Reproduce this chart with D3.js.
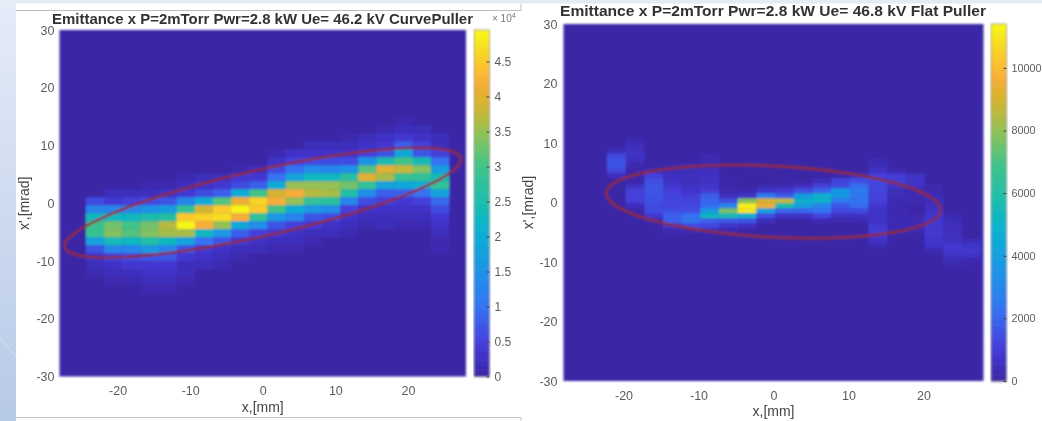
<!DOCTYPE html>
<html>
<head>
<meta charset="utf-8">
<script src="https://cdnjs.cloudflare.com/ajax/libs/d3/7.8.5/d3.min.js"></script>
<style>
  html, body { margin: 0; padding: 0; background: #fff; overflow: hidden; }
  text { font-family: "Liberation Sans", Arial, sans-serif; }
</style>
</head>
<body>
<svg id="chart" width="1042" height="421"></svg>
<script>
// curve puller histogram, thousands of counts, top row first
const curveCounts = [
  [0,0,0,0,0,0,0,0,0,0,0,0,0,0,0,0,0,1,0,0],
  [0,0,0,0,0,0,0,0,0,0,0,0,0,0,0,0,1,2,2,0],
  [0,0,0,0,0,0,0,0,0,0,0,0,0,0,1,2,3,4,3,2],
  [0,0,0,0,0,0,0,0,0,0,0,0,2,2,2,3,4,8,5,2],
  [0,0,0,0,0,0,0,0,0,0,1,3,3,3,3,5,7,19,7,5],
  [0,0,0,0,0,0,0,0,0,0,3,5,6,6,6,15,25,30,24,10],
  [0,0,0,0,0,0,0,0,1,2,6,10,14,13,15,31,40,38,34,17],
  [0,0,0,0,0,1,2,2,4,4,10,18,23,23,27,40,36,29,28,24],
  [0,0,0,1,1,2,3,4,6,8,20,35,35,35,33,28,18,19,20,28],
  [0,2,2,2,3,4,6,8,20,30,39,42,37,36,26,14,8,8,10,18],
  [6,4,5,6,7,13,20,31,41,46,42,35,28,27,13,6,5,4,5,9],
  [13,13,13,15,17,28,39,45,49,45,30,20,16,14,5,3,3,3,3,6],
  [23,23,23,25,26,45,46,47,42,28,16,13,7,6,3,2,2,2,2,4],
  [29,33,30,33,37,49,42,35,19,14,7,5,4,3,2,1,2,1,1,3],
  [29,34,31,34,36,36,23,16,8,5,4,3,2,2,1,0,0,0,0,2],
  [18,24,23,26,23,18,10,7,4,3,2,2,1,0,0,0,0,0,0,1],
  [7,13,13,16,13,7,4,3,2,2,1,1,0,0,0,0,0,0,0,1],
  [3,5,6,7,7,4,3,2,1,0,0,0,0,0,0,0,0,0,0,0],
  [2,3,4,4,4,2,2,1,0,0,0,0,0,0,0,0,0,0,0,0],
  [1,2,2,3,3,2,0,0,0,0,0,0,0,0,0,0,0,0,0,0],
  [0,1,1,2,2,1,0,0,0,0,0,0,0,0,0,0,0,0,0,0],
  [0,0,0,1,1,0,0,0,0,0,0,0,0,0,0,0,0,0,0,0]
];

// flat puller histogram, hundreds of counts, top row first
const flatCounts = [
  [0,3,0,0,0,0,0,0,0,0,0,0,0,0,0,0,0,0,0,0],
  [0,5,0,0,0,0,0,0,0,0,0,0,0,0,0,0,0,0,0,0],
  [4,6,0,0,0,0,0,0,0,0,0,0,0,0,0,0,0,0,0,0],
  [13,7,0,0,0,2,0,0,0,0,0,0,0,0,0,0,0,0,0,0],
  [16,5,0,0,0,3,0,0,0,0,0,0,0,0,3,0,0,0,0,0],
  [16,2,0,2,2,4,0,0,0,0,0,0,0,0,4,0,0,0,0,0],
  [13,1,4,4,4,5,0,0,0,0,0,0,0,0,6,3,0,0,0,0],
  [5,1,11,5,5,6,0,0,0,0,0,0,2,5,11,10,6,0,0,0],
  [0,1,15,7,5,7,1,0,0,0,0,4,12,15,13,10,8,0,0,0],
  [0,6,16,9,6,8,1,0,2,3,5,11,14,22,13,8,7,2,0,0],
  [0,11,16,11,8,10,2,2,8,9,15,20,38,26,13,4,3,2,0,0],
  [0,12,16,12,10,18,5,7,27,18,38,50,38,25,12,4,3,3,0,0],
  [0,11,15,13,12,20,15,78,90,86,50,50,26,24,11,3,3,4,0,0],
  [0,5,14,12,13,22,30,112,95,58,40,30,17,22,9,3,1,5,0,0],
  [0,1,14,15,15,38,77,110,42,20,20,24,13,14,7,3,1,7,0,0],
  [0,0,9,19,23,54,56,48,15,7,7,13,6,7,7,3,2,8,3,0],
  [0,0,2,19,24,19,17,16,4,0,0,3,2,3,7,3,3,9,4,0],
  [0,0,0,9,14,13,8,5,0,0,0,0,0,0,9,3,3,9,5,0],
  [0,0,0,3,3,4,2,0,0,0,0,0,0,0,10,2,2,9,5,0],
  [0,0,0,0,0,0,0,0,0,0,0,0,0,0,9,1,0,9,6,0],
  [0,0,0,0,0,0,0,0,0,0,0,0,0,0,7,0,0,8,6,4],
  [0,0,0,0,0,0,0,0,0,0,0,0,0,0,3,0,0,7,9,8],
  [0,0,0,0,0,0,0,0,0,0,0,0,0,0,0,0,0,3,9,9],
  [0,0,0,0,0,0,0,0,0,0,0,0,0,0,0,0,0,0,6,7],
  [0,0,0,0,0,0,0,0,0,0,0,0,0,0,0,0,0,0,4,3],
  [0,0,0,0,0,0,0,0,0,0,0,0,0,0,0,0,0,0,2,1]
];

const axisTicksX = [-20, -10, 0, 10, 20];
const axisTicksY = [-30, -20, -10, 0, 10, 20, 30];
const curveBarTicks = [0, 5000, 10000, 15000, 20000, 25000, 30000, 35000, 40000, 45000];
const flatBarTicks = [0, 2000, 4000, 6000, 8000, 10000];

// colormap
const parulaPos = [0, .05, .1, .2, .3, .4, .45, .5, .6, .7, .76, .8, .85, .9, .95, 1];
const parulaCol = ['#3b27a5', '#3f2fc0', '#4540dc', '#3472f2', '#1e92e8', '#0cabd6', '#06b6c6', '#1cbcae',
  '#3cc38c', '#8fc257', '#c2b83a', '#dcb22e', '#f8ae38', '#fcc52c', '#f6de20', '#f9fb15'];

const panels = [
  {
    title: 'Emittance x P=2mTorr Pwr=2.8 kW Ue= 46.2 kV CurvePuller',
    titleX: 262.5, titleY: 24, titleLen: 421,
    counts: curveCounts, unit: 1000, maxCount: 49500,
    binX0: -24.35, binW: 2.5, binTop: 14.88, binH: 1.384,
    plotX: [59.5, 466], plotY: [376.5, 30],
    barX: [474, 489.5], barTicks: curveBarTicks, barFont: 12,
    barFormat: d => d === 0 ? '0' : String(d / 10000),
    ell: { x: 27.3, y: 9.5, phase: 38, cy: 0.1 },
    yLabelX: 29, xLabelY: 412, tickGapX: 14, tickGapY: 5
  },
  {
    title: 'Emittance x P=2mTorr Pwr=2.8 kW Ue= 46.8 kV Flat Puller',
    titleX: 773, titleY: 16, titleLen: 426,
    counts: flatCounts, unit: 100, maxCount: 11400,
    binX0: -22.2, binW: 2.49, binTop: 10.79, binH: 0.84,
    plotX: [563.5, 983.5], plotY: [381, 24],
    barX: [991, 1006.5], barTicks: flatBarTicks, barFont: 10.8,
    barFormat: d => String(d),
    ell: { x: 22.3, y: 6.15, phase: 103, cy: 0.15 },
    yLabelX: 533, xLabelY: 416, tickGapX: 14, tickGapY: 6
  }
];

let svg = d3.select('#chart');
let defs = svg.append('defs');

defs.append('filter').attr('id', 'soft').attr('x', '-5%').attr('y', '-5%').attr('width', '110%').attr('height', '110%')
  .append('feGaussianBlur').attr('stdDeviation', 1);
defs.append('filter').attr('id', 'softText').attr('x', '-10%').attr('y', '-20%').attr('width', '120%').attr('height', '140%')
  .append('feGaussianBlur').attr('stdDeviation', 0.55);

let stripGrad = defs.append('linearGradient').attr('id', 'strip').attr('x1', 0).attr('y1', 0).attr('x2', 0).attr('y2', 1);
stripGrad.append('stop').attr('offset', 0).attr('stop-color', '#e6ecf8');
stripGrad.append('stop').attr('offset', 1).attr('stop-color', '#b6c9e7');

// slide background behind the two pasted figures
svg.append('rect').attr('width', 1042).attr('height', 421).attr('fill', '#fff');
svg.append('rect').attr('width', 1042).attr('height', 3.5).attr('fill', '#e4ebf7');
svg.append('rect').attr('width', 16).attr('height', 421).attr('fill', 'url(#strip)');
svg.append('path').attr('d', 'M0,338L16,357').attr('stroke', '#d3deef').attr('fill', 'none');
svg.append('path').attr('d', 'M16,10.5H521V4').attr('stroke', '#bdbdbd').attr('fill', 'none');
svg.append('path').attr('d', 'M16,417.5H521V421').attr('stroke', '#c4c4c4').attr('fill', 'none');

panels.forEach(drawPanel);

function drawPanel(p) {
  let x = d3.scaleLinear().domain([-28, 28]).range(p.plotX);
  let y = d3.scaleLinear().domain([-30, 30]).range(p.plotY);
  let color = d3.scaleLinear().domain(parulaPos.map(d => d * p.maxCount)).range(parulaCol).clamp(true);
  let barY = d3.scaleLinear().domain([0, p.maxCount]).range(p.plotY);

  let cells = [];
  p.counts.forEach((row, r) => row.forEach((v, c) => cells.push({ r, c, v: v * p.unit })));

  let plot = svg.append('g').attr('filter', 'url(#soft)');

  plot.append('rect')
    .attr('x', p.plotX[0]).attr('y', p.plotY[1])
    .attr('width', p.plotX[1] - p.plotX[0]).attr('height', p.plotY[0] - p.plotY[1])
    .attr('fill', color(0));

  plot.selectAll('.cell')
    .data(cells.filter(d => d.v > 0))
    .enter().append('rect')
    .attr('class', 'cell')
    .attr('x', d => x(p.binX0 + d.c * p.binW))
    .attr('y', d => y(p.binTop - d.r * p.binH))
    .attr('width', x(p.binW) - x(0) + 0.3)
    .attr('height', y(0) - y(p.binH) + 0.3)
    .attr('fill', d => color(d.v));

  // ellipse drawn in data space, x and x' out of phase
  let line = d3.line().x(d => x(p.ell.x * Math.cos(d))).y(d => y(p.ell.cy + p.ell.y * Math.cos(d - p.ell.phase * Math.PI / 180)));
  plot.append('path')
    .attr('d', line(d3.range(0, 2 * Math.PI + 0.05, 0.05)))
    .attr('fill', 'none')
    .attr('stroke', '#8c2c30')
    .attr('stroke-width', 2.6);

  // colour bar, 64 levels like matlab
  let levels = d3.range(64).map(i => i / 64 * p.maxCount);
  let bar = svg.append('g').attr('filter', 'url(#soft)');
  bar.selectAll('rect')
    .data(levels)
    .enter().append('rect')
    .attr('x', p.barX[0])
    .attr('width', p.barX[1] - p.barX[0])
    .attr('y', d => barY(d + p.maxCount / 64))
    .attr('height', barY(0) - barY(p.maxCount / 64) + 0.5)
    .attr('fill', d => color(d + p.maxCount / 128));
  bar.append('rect')
    .attr('x', p.barX[0]).attr('y', p.plotY[1])
    .attr('width', p.barX[1] - p.barX[0]).attr('height', p.plotY[0] - p.plotY[1])
    .attr('fill', 'none').attr('stroke', '#777').attr('stroke-width', 0.7);

  let text = svg.append('g').attr('filter', 'url(#softText)');

  let xAxis = text.append('g')
    .attr('transform', `translate(0,${p.plotY[0]})`)
    .call(d3.axisBottom(x).tickValues(axisTicksX).tickFormat(String).tickSize(0).tickPadding(p.tickGapX - 4));
  let yAxis = text.append('g')
    .attr('transform', `translate(${p.plotX[0]},0)`)
    .call(d3.axisLeft(y).tickValues(axisTicksY).tickFormat(String).tickSize(0).tickPadding(p.tickGapY));
  let barAxis = text.append('g')
    .attr('transform', `translate(${p.barX[1]},0)`)
    .call(d3.axisRight(barY).tickValues(p.barTicks).tickFormat(p.barFormat).tickSize(-3).tickPadding(5));

  [xAxis, yAxis].forEach(a => {
    a.selectAll('text').style('font-size', '12.5px');
  });
  barAxis.selectAll('text').style('font-size', p.barFont + 'px');
  [xAxis, yAxis, barAxis].forEach(a => {
    a.select('.domain').remove();
    a.selectAll('text').attr('fill', '#5c5c5c');
    a.selectAll('line').attr('stroke', '#444');
  });

  text.append('text')
    .attr('x', p.titleX).attr('y', p.titleY)
    .attr('text-anchor', 'middle')
    .attr('textLength', p.titleLen).attr('lengthAdjust', 'spacingAndGlyphs')
    .attr('font-weight', 'bold').attr('font-size', 14.4).attr('fill', '#333')
    .text(p.title);

  text.append('text')
    .attr('x', x(0)).attr('y', p.xLabelY)
    .attr('text-anchor', 'middle')
    .attr('font-size', 14).attr('fill', '#444')
    .text('x,[mm]');

  text.append('text')
    .attr('transform', `translate(${p.yLabelX},${y(0)}) rotate(-90)`)
    .attr('text-anchor', 'middle')
    .attr('font-size', 14).attr('fill', '#444')
    .text("x',[mrad]");
}

// exponent of the left colour bar
let expo = svg.append('text')
  .attr('x', 492).attr('y', 22)
  .attr('font-size', 10).attr('fill', '#777')
  .attr('filter', 'url(#softText)')
  .text('\u00d7 10');
expo.append('tspan').attr('dy', -4).attr('font-size', 7).text('4');
</script>
</body>
</html>
